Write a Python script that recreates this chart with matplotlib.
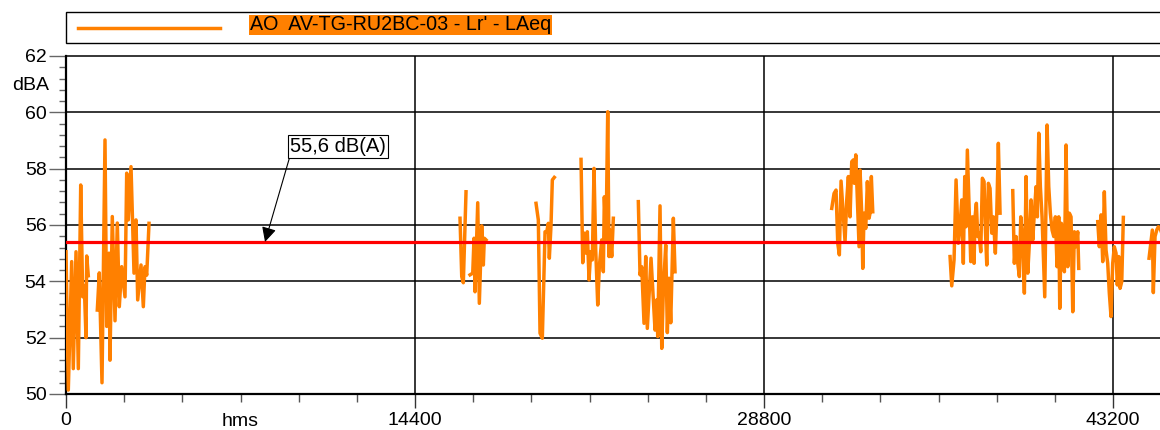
import numpy as np
import matplotlib
matplotlib.use("Agg")
import matplotlib.pyplot as plt
from matplotlib.lines import Line2D
from matplotlib.patches import Rectangle
from matplotlib.ticker import MultipleLocator, FixedLocator

plt.rcParams["font.family"] = ["Liberation Sans", "DejaVu Sans"]

# --- data: time [s] and level [dBA], one list per measured period ---
seg_t = [
    [0, 95, 235, 301, 413, 508, 607, 689, 755, 825, 854, 920],
    [1291, 1374, 1485, 1609, 1679, 1774, 1815, 1910, 2022, 2117, 2199, 2298,
     2434, 2504, 2570, 2682, 2806, 2888, 2958, 3095, 3190, 3260, 3330, 3425],
    [16256, 16327, 16393, 16504],
    [16669, 16781, 16834, 16876, 16987, 17053, 17152, 17218, 17259, 17329],
    [19392, 19487, 19557, 19652, 19764, 19834, 19900, 19941, 20011, 20065, 20147],
    [21249, 21319, 21385, 21455, 21509, 21579, 21649, 21715, 21785, 21855, 21938,
     22004, 22103, 22169, 22210, 22280, 22350, 22404, 22445, 22516, 22582],
    [23613, 23683, 23753, 23848, 23918, 23984, 24054, 24137, 24232, 24302, 24372,
     24413, 24508, 24579, 24645, 24744, 24810, 24880, 24950, 25058, 25127],
    [31593, 31688, 31770, 31841, 31907, 31977, 32047, 32142, 32212, 32278, 32348,
     32418, 32484, 32526, 32584, 32650, 32720, 32761, 32831, 32872, 32926, 32996,
     33062, 33132, 33173, 33227, 33285],
    [36474, 36544, 36639, 36722, 36816, 36886, 36956, 37022, 37080, 37134, 37188,
     37258, 37328, 37394, 37464, 37506, 37559, 37617, 37671, 37741, 37807, 37877,
     37931, 37989, 38055, 38124, 38195, 38261, 38343, 38401, 38467, 38537],
    [39061, 39127, 39197, 39268, 39334, 39391, 39474, 39540, 39610, 39680, 39746,
     39816, 39886, 39952, 40022, 40076, 40134, 40200, 40270, 40381, 40476, 40546,
     40612, 40683, 40753, 40819, 40889, 40959, 41000, 41066, 41124, 41190, 41260,
     41330, 41396, 41466, 41536, 41602, 41672, 41742, 41783],
    [42567, 42633, 42703, 42773, 42839, 42909, 42979, 43045, 43115, 43185, 43251,
     43322, 43375, 43433, 43488, 43558, 43624],
    [44684, 44754, 44820, 44861, 44931, 45001, 45067, 45136, 45300],
]
seg_v = [
    [55.05, 50.14, 54.7, 50.9, 55.05, 50.9, 57.42, 53.45, 53.85, 52.0, 54.9, 54.2],
    [52.98, 54.3, 50.4, 59.02, 52.4, 55.0, 51.2, 56.3, 52.6, 56.07, 53.1, 54.52,
     53.45, 57.84, 56.18, 58.07, 54.29, 56.18, 53.34, 54.58, 53.1, 54.52, 54.22, 56.06],
    [56.24, 54.17, 53.95, 57.18],
    [54.23, 54.29, 55.53, 53.63, 56.79, 53.22, 55.97, 54.58, 55.53, 55.47],
    [56.77, 56.18, 52.16, 51.98, 55.76, 55.76, 56.06, 54.82, 56.0, 57.6, 57.69],
    [58.33, 54.66, 55.71, 55.0, 55.76, 54.05, 55.05, 54.76, 58.01, 55.11, 53.16,
     54.52, 55.47, 54.34, 57.0, 55.47, 60.02, 54.88, 55.82, 54.88, 56.24],
    [56.83, 54.23, 54.52, 52.51, 54.88, 52.33, 53.45, 54.82, 53.34, 52.27, 53.34,
     52.04, 56.68, 51.62, 53.69, 55.29, 52.18, 54.11, 52.53, 56.24, 54.34],
    [56.59, 57.12, 57.24, 55.35, 54.94, 57.56, 56.65, 55.41, 56.89, 57.72, 56.29,
     58.25, 58.31, 57.48, 58.49, 56.89, 55.23, 57.95, 56.36, 54.46, 56.42, 55.88,
     57.54, 56.24, 56.42, 57.72, 56.47],
    [54.88, 53.84, 54.76, 57.6, 55.35, 55.94, 56.89, 54.64, 57.72, 55.94, 58.66,
     56.65, 54.7, 56.29, 54.64, 56.29, 56.77, 55.59, 55.71, 55.05, 57.66, 57.54,
     55.88, 54.58, 57.48, 57.3, 55.71, 56.29, 55.0, 56.42, 58.9, 56.42],
    [57.22, 54.64, 55.59, 54.64, 54.17, 56.29, 55.47, 53.58, 57.72, 54.29, 55.35,
     56.89, 55.47, 56.42, 57.36, 56.29, 59.26, 57.36, 56.29, 53.45, 59.55, 57.36,
     56.42, 55.82, 55.59, 56.29, 54.52, 56.29, 53.04, 56.06, 55.47, 54.34, 58.84,
     54.52, 56.42, 56.29, 52.92, 55.76, 55.23, 55.76, 54.46],
    [56.12, 55.23, 56.36, 54.7, 57.18, 55.11, 54.64, 53.58, 52.75, 54.64, 55.23,
     55.0, 53.87, 54.88, 53.75, 53.99, 56.27],
    [54.82, 55.35, 55.82, 53.6, 55.59, 55.82, 55.94, 55.88, 55.5],
]
mean_level = 55.4
mean_label = "55,6 dB(A)"
series_name = "AO  AV-TG-RU2BC-03 - Lr' - LAeq"
x_major = [0, 14400, 28800, 43200]
x_labels = ["0", "14400", "28800", "43200"]

ORANGE = "#FF8000"

fig = plt.figure(figsize=(11.6, 4.3), dpi=100)
ax = fig.add_axes([66 / 1160, 36 / 430, 1 - 66 / 1160, 338 / 430])

# stitch the periods together with NaN gaps
t_all, v_all = [], []
for t, v in zip(seg_t, seg_v):
    t_all += t + [np.nan]
    v_all += v + [np.nan]
ax.plot(t_all, v_all, color=ORANGE, lw=2.5, zorder=3)
ax.axhline(mean_level, color="#FF0000", lw=2.3, zorder=4)

ax.set_xlim(0, 45136)
ax.set_ylim(50, 62)

# grid
for y in range(52, 62, 2):
    ax.axhline(y, color="black", lw=1.1, zorder=1)
for x in x_major[1:]:
    ax.axvline(x, color="black", lw=1.1, zorder=1)

ax.spines["right"].set_visible(False)
for s in ["left", "bottom", "top"]:
    ax.spines[s].set_color("black")
ax.spines["left"].set_linewidth(1.6)
ax.spines["bottom"].set_linewidth(1.6)
ax.spines["top"].set_linewidth(1.1)

ax.yaxis.set_major_locator(MultipleLocator(2))
ax.yaxis.set_minor_locator(MultipleLocator(0.4))
ax.xaxis.set_major_locator(FixedLocator(x_major))
ax.set_xticklabels(x_labels)
ax.xaxis.set_minor_locator(MultipleLocator(2400))
ax.tick_params(axis="y", which="major", length=12, width=1.0, color="#666666",
               labelsize=14, pad=2)
ax.tick_params(axis="y", which="minor", length=5, width=1.0, color="#666666")
ax.tick_params(axis="x", which="major", length=10, width=1.0, color="#333333",
               labelsize=14, pad=3)
ax.tick_params(axis="x", which="minor", length=6, width=1.0, color="#555555")

ax.text(7200, -0.057, "hms", transform=ax.get_xaxis_transform(), ha="center",
        va="top", fontsize=14)
fig.text(31 / 1160, 1 - 86 / 430, "dBA", ha="center", va="center", fontsize=14)

# mean level call-out
ax.annotate(mean_label, xy=(8211, mean_level), xytext=(9242, 58.45),
            fontsize=14.5, ha="left", va="bottom", zorder=5,
            bbox=dict(boxstyle="square,pad=0.12", fc="white", ec="black", lw=0.8),
            arrowprops=dict(arrowstyle="-|>", color="black", lw=0.8,
                            mutation_scale=22, shrinkA=0, shrinkB=0,
                            relpos=(0, 0)))

# legend strip above the plot
fig.patches.append(Rectangle((66 / 1160, 1 - 43 / 430), 1.0, 31 / 430,
                             transform=fig.transFigure, fc="white", ec="black",
                             lw=1.0))
fig.lines.append(Line2D([78 / 1160, 220 / 1160], [1 - 28 / 430, 1 - 28 / 430],
                        transform=fig.transFigure, color=ORANGE, lw=2.5))
fig.text(250 / 1160, 1 - 25 / 430, series_name, ha="left", va="center",
         fontsize=14.2, bbox=dict(boxstyle="square,pad=0.05", fc=ORANGE, ec="none"))

fig.savefig("out.png", dpi=100)
